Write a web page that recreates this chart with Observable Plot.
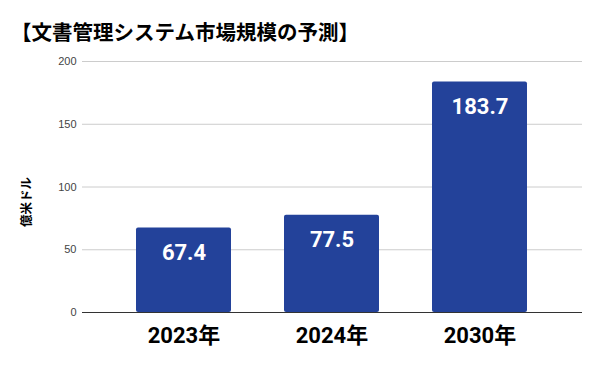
<!DOCTYPE html>
<html><head><meta charset="utf-8">
<script src="https://cdn.jsdelivr.net/npm/d3@7"></script>
<script src="https://cdn.jsdelivr.net/npm/@observablehq/plot@0.6"></script>
<style>
body{margin:0;background:#fff;width:600px;height:371px;overflow:hidden;}
#title{box-sizing:border-box;height:44px;padding:20px 0 0 11px;line-height:22px;font-family:"Noto Sans CJK JP",sans-serif;font-weight:bold;font-size:20.5px;color:#000;white-space:nowrap;}
</style></head><body>
<div id="title">【文書管理システム市場規模の予測】</div>
<div id="chart"></div>
<script>
const categories = ["2023年", "2024年", "2030年"];
const values = [67.4, 77.5, 183.7];
const yTicks = [0, 50, 100, 150, 200];
const yLabel = "億米ドル";

const data = categories.map((c, i) => ({year: c, value: values[i], label: values[i].toFixed(1)}));

const chart = Plot.plot({
  width: 600,
  height: 327,
  marginLeft: 82,
  marginRight: 18,
  marginTop: 17,
  marginBottom: 59,
  style: {fontFamily: "Roboto, 'Noto Sans CJK JP', sans-serif", background: "#fff"},
  x: {domain: categories, padding: 0.356, label: null},
  y: {domain: [0, 200], ticks: yTicks, label: null},
  marks: [
    Plot.gridY(yTicks.filter(d => d > 0), {stroke: "#cccccc", strokeOpacity: 1, strokeWidth: 1}),
    Plot.axisY({ticks: yTicks, tickSize: 0, tickPadding: 6, fontSize: 11, fill: "#444", fontFamily: "'Liberation Sans', Arial, sans-serif", label: null}),
    Plot.axisX({tickSize: 0, tickPadding: 15, fontSize: 22, fontWeight: "bold", fill: "#000", label: null}),
    Plot.barY(data, {x: "year", y: "value", fill: "#23429a", rx: 2}),
    Plot.ruleY([0], {stroke: "#333"}),
    Plot.text(data, {x: "year", y: "value", text: "label", dy: 25, fill: "#fff", fontSize: 22, fontWeight: "bold", lineAnchor: "middle"}),
    Plot.text([yLabel], {frameAnchor: "left", dx: -56, dy: 40, rotate: -90, fontSize: 12.5, fontWeight: "bold", fill: "#000", fontFamily: "'Noto Sans CJK JP', sans-serif"})
  ]
});
document.getElementById("chart").appendChild(chart);
</script>
</body></html>
